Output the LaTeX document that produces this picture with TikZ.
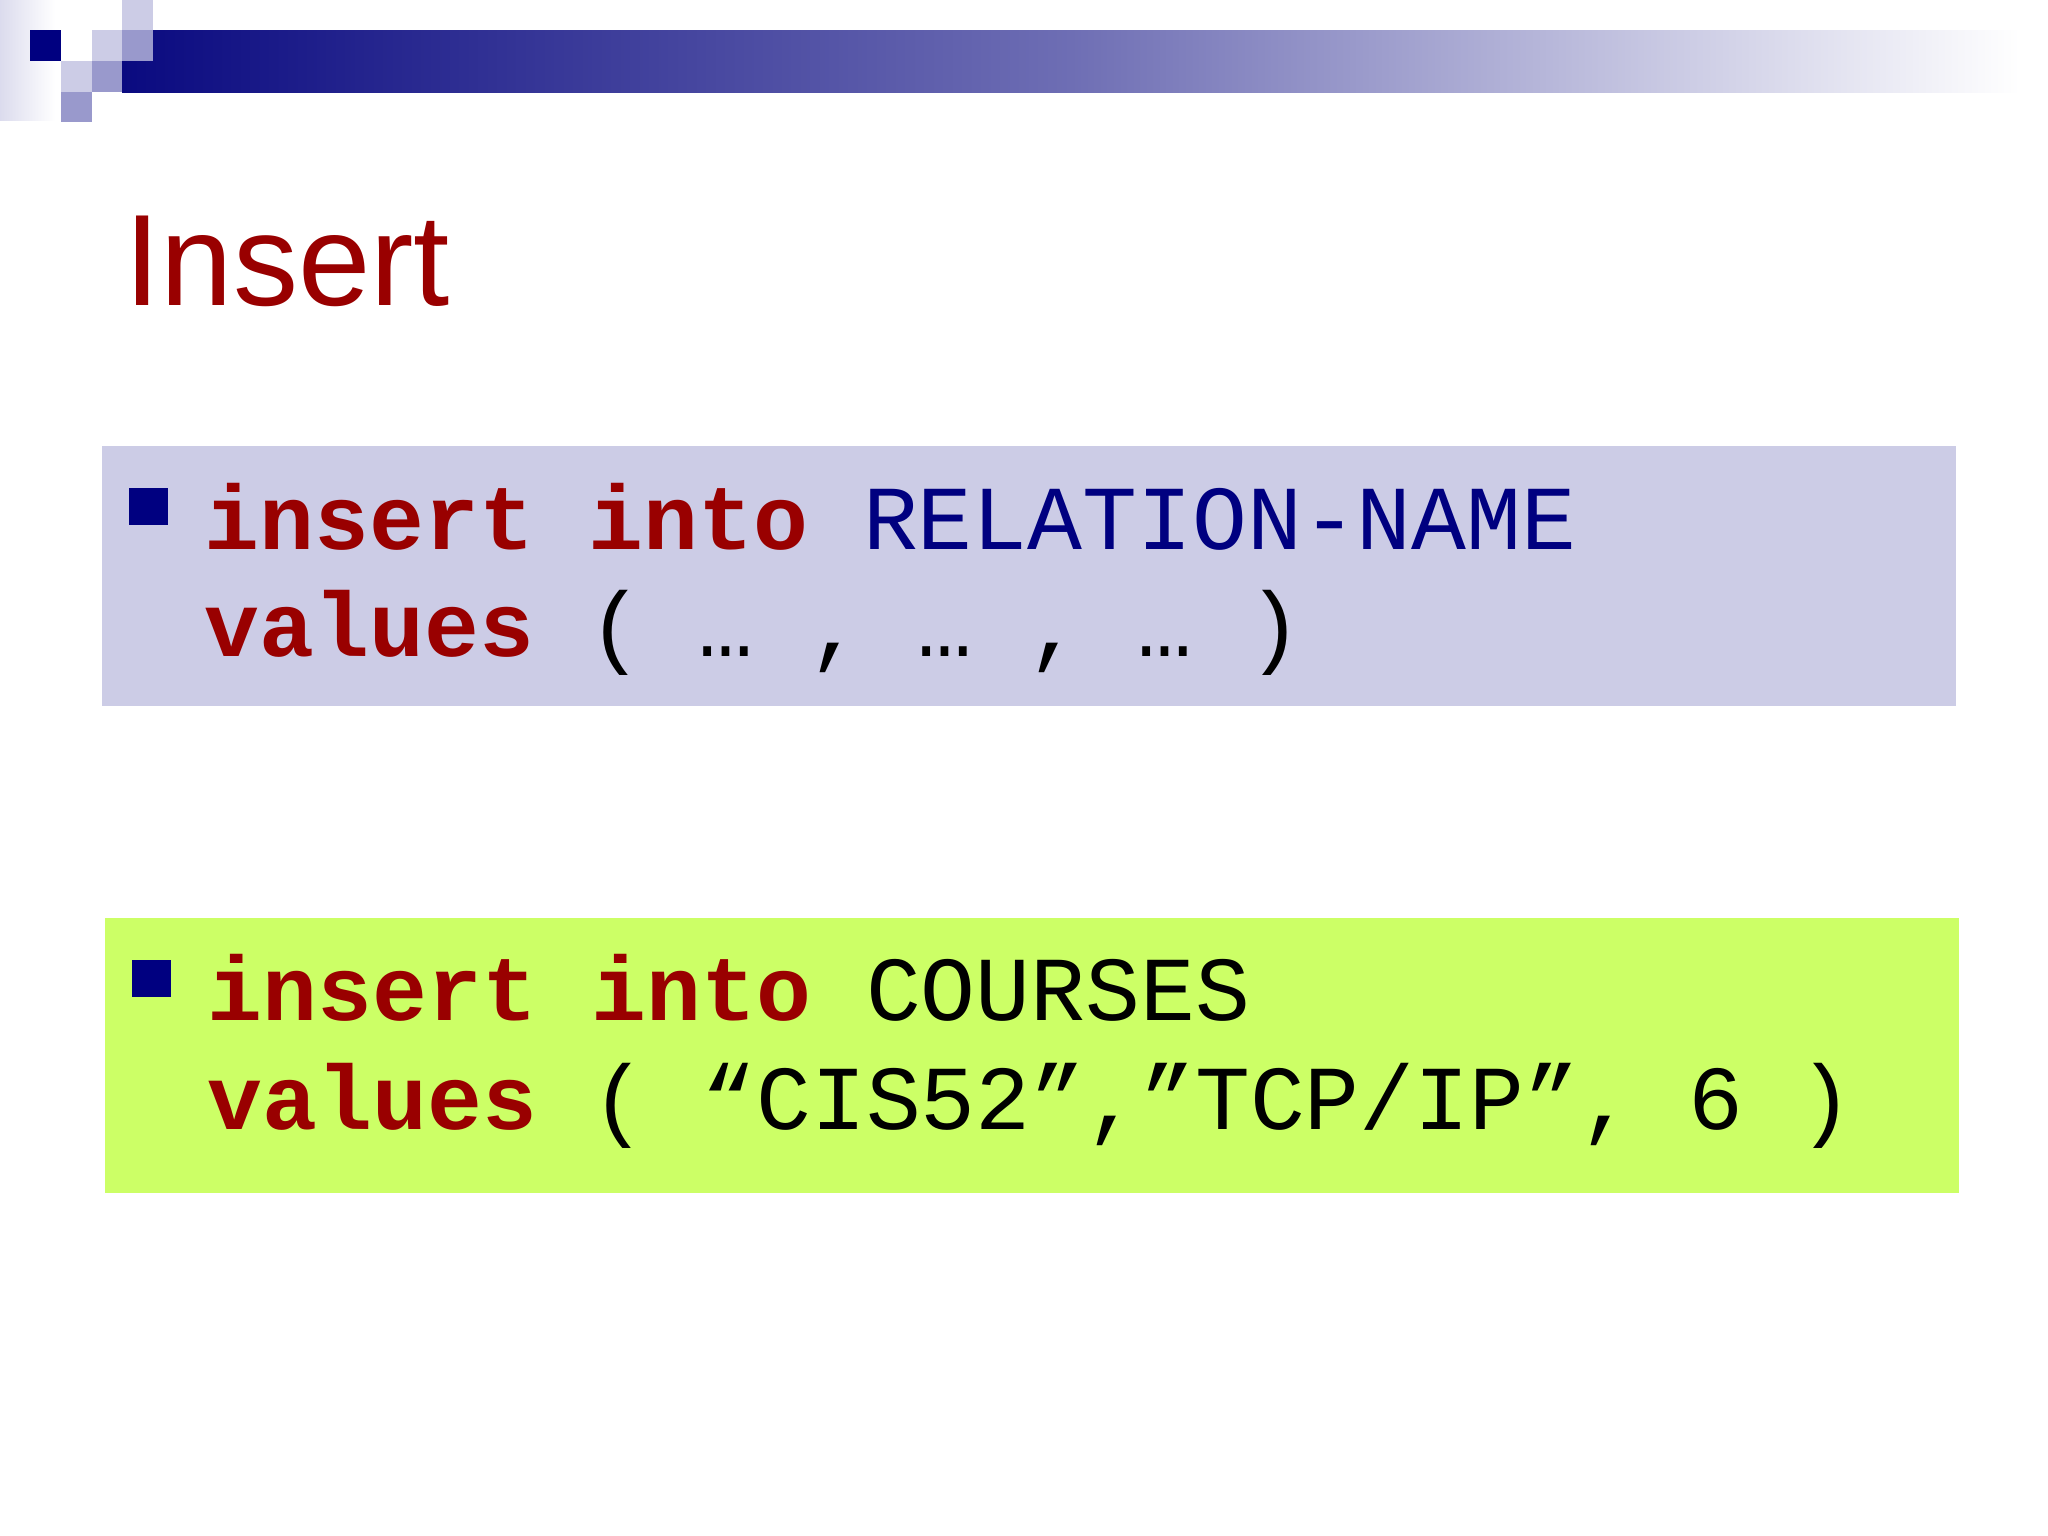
\documentclass[tikz,border=0pt]{standalone}
\usepackage{fontspec}
\setmainfont{Liberation Sans}
\newfontfamily\codefont{Liberation Mono}
\definecolor{navy}{RGB}{0,0,128}
\definecolor{kw}{RGB}{153,0,0}
\definecolor{sqlight}{RGB}{204,204,230}
\definecolor{sqmed}{RGB}{153,153,204}
\definecolor{boxa}{RGB}{204,204,230}
\definecolor{boxb}{RGB}{204,255,102}
\begin{document}
\begin{tikzpicture}[x=0.01cm,y=-0.01cm,
  code/.style={anchor=base west,inner sep=0pt,font=\codefont\fontsize{26}{30}\selectfont},
  bul/.style={fill=navy}]
\useasboundingbox (0,0) rectangle (2048,1536);
\fill[white] (0,0) rectangle (2048,1536);
% header decoration
\shade[left color=sqlight!70,right color=white] (0,0) rectangle (55,120);
\shade[left color={rgb,255:red,10;green,10;blue,128},right color=white,middle color={rgb,255:red,110;green,110;blue,180}] (122,30) rectangle (2020,92);
\fill[navy] (30,30) rectangle (61,61);
\fill[sqlight] (92,30) rectangle (122,61);
\fill[sqlight] (122,0) rectangle (153,30);
\fill[sqmed] (122,30) rectangle (153,61);
\fill[sqlight] (61,61) rectangle (92,92);
\fill[sqmed] (92,61) rectangle (122,92);
\fill[sqmed] (61,92) rectangle (92,122);
% title
\node[anchor=base west,inner sep=0pt,text=kw,font=\fontsize{37}{44}\selectfont] (title) at (124,305) {Insert};
% box 1
\fill[boxa] (102,446) rectangle (1956,706);
\fill[bul] (129,488) rectangle (168,525);
\node[code] (l1) at (204,549) {\textcolor{kw}{\bfseries insert into} \textcolor{navy}{RELATION-NAME}};
\node[code] (l2) at (204,656) {\textcolor{kw}{\bfseries values} ( … , … , … )};
% box 2
\fill[boxb] (105,918) rectangle (1959,1193);
\fill[bul] (132,960) rectangle (171,997);
\node[code] (l3) at (207,1020) {\textcolor{kw}{\bfseries insert into} COURSES};
\node[code] (l4) at (207,1129) {\textcolor{kw}{\bfseries values} ( “CIS52”,”TCP/IP”, 6 )};
\end{tikzpicture}
\end{document}
